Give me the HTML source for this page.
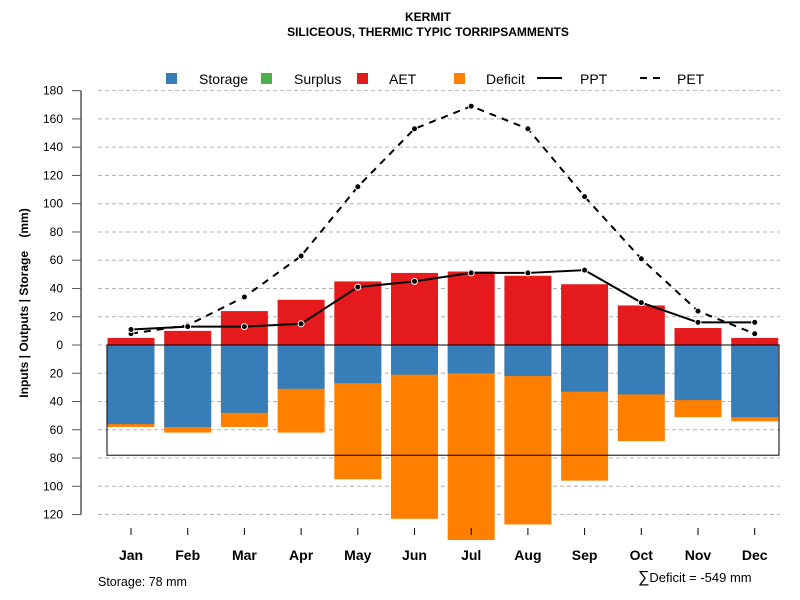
<!DOCTYPE html>
<html><head><meta charset="utf-8">
<style>
body{margin:0;background:#fff;}
svg{display:block;font-family:"Liberation Sans",sans-serif;}
</style></head>
<body>
<svg id="c" width="800" height="600" viewBox="0 0 800 600">
<text x="428" y="21" text-anchor="middle" font-size="12" font-weight="bold">KERMIT</text>
<text x="428" y="36" text-anchor="middle" font-size="12" font-weight="bold">SILICEOUS, THERMIC TYPIC TORRIPSAMMENTS</text>
<g id="grid"></g>
<g id="bars"></g>
<g id="lines"></g>
<g id="axes"></g>
<text transform="translate(28,303) rotate(-90)" text-anchor="middle" font-size="12" font-weight="bold">Inputs | Outputs | Storage&#160;&#160;&#160;&#160;(mm)</text>
<g font-size="14">
<rect x="166" y="73" width="11" height="11" fill="#377EB8"/>
<text x="199" y="84">Storage</text>
<rect x="261" y="73" width="11" height="11" fill="#4DAF4A"/>
<text x="294" y="84">Surplus</text>
<rect x="357" y="73" width="11" height="11" fill="#E41A1C"/>
<text x="389" y="84">AET</text>
<rect x="454" y="73" width="11" height="11" fill="#FF7F00"/>
<text x="486" y="84">Deficit</text>
<line x1="537" y1="78" x2="562" y2="78" stroke="#000" stroke-width="2"/>
<text x="580" y="84">PPT</text>
<line x1="640" y1="78" x2="665" y2="78" stroke="#000" stroke-width="2" stroke-dasharray="7,6"/>
<text x="677" y="84">PET</text>
</g>
<text x="98" y="586" font-size="12.5">Storage: 78 mm</text>
<text x="638" y="582" font-size="13"><tspan font-size="16">∑</tspan>Deficit = -549 mm</text>
</svg>
<script>
const months=["Jan","Feb","Mar","Apr","May","Jun","Jul","Aug","Sep","Oct","Nov","Dec"];
const aet=[5,10,24,32,45,51,52,49,43,28,12,5];
const storage=[56,58,48,31,27,21,20,22,33,35,39,51];
const deficitBottom=[58,62,58,62,95,123,138,127,96,68,51,54];
const ppt=[11,13,13,15,41,45,51,51,53,30,16,16];
const pet=[8,14,34,63,112,153,169,153,105,61,24,8];
const yTicks=[180,160,140,120,100,80,60,40,20,0,-20,-40,-60,-80,-100,-120];
const storageCap=78;

const NS="http://www.w3.org/2000/svg";
const y0=345,k=1.413;
function yS(v){return y0-v*k;}
function xS(i){return 131+i*56.7;}
function mk(tag,attrs,parent){const e=document.createElementNS(NS,tag);for(const a in attrs)e.setAttribute(a,attrs[a]);parent.appendChild(e);return e;}
const grid=document.getElementById('grid'),bars=document.getElementById('bars'),lines=document.getElementById('lines'),axes=document.getElementById('axes');
yTicks.forEach(t=>{
  const g=mk('line',{x1:98,x2:780,y1:yS(t),y2:yS(t),stroke:'#b4b4b4','stroke-dasharray':'4,3'},grid);
  
  
  const tk=mk('line',{x1:72,x2:81,y1:yS(t),y2:yS(t),stroke:'#555'},axes);
  
  
  const tl=mk('text',{x:63,y:yS(t)+4,'text-anchor':'end','font-size':12},axes);
  tl.textContent=Math.abs(t);
  
  
});
const ax=mk('line',{x1:81,x2:81,y1:yS(180),y2:yS(-120),stroke:'#555','stroke-width':1.5},axes);


const bw=47;
months.forEach((m,i)=>{
  const x=xS(i)-bw/2;
  const d=mk('rect',{x:x,y:y0,width:bw,height:deficitBottom[i]*k,fill:'#FF7F00'},bars);
  
  
  const s=mk('rect',{x:x,y:y0,width:bw,height:storage[i]*k,fill:'#377EB8'},bars);
  
  
  const a=mk('rect',{x:x,y:yS(aet[i]),width:bw,height:aet[i]*k,fill:'#E41A1C'},bars);
  
  
  const t=mk('line',{x1:xS(i),x2:xS(i),y1:528,y2:535,stroke:'#000'},axes);
  
  
  const l=mk('text',{x:xS(i),y:560,'text-anchor':'middle','font-size':14,'font-weight':'bold'},axes);
  l.textContent=m;
  
  
});
const box=mk('rect',{x:107,y:y0,width:672,height:storageCap*k,fill:'none',stroke:'#000'},bars);


const zl=mk('line',{x1:107,x2:779,y1:y0,y2:y0,stroke:'#000'},bars);


function series(vals,name,dash){
  const p=mk('polyline',{points:vals.map((v,i)=>xS(i)+','+yS(v)).join(' '),fill:'none',stroke:'#000','stroke-width':2},lines);
  if(dash)p.setAttribute('stroke-dasharray','7,6');
  
  
  vals.forEach((v,i)=>{
    const c=mk('circle',{cx:xS(i),cy:yS(v),r:3,fill:'#000',stroke:'#fff','stroke-width':1},lines);
    
    
  });
}
series(pet,'pet',true);
series(ppt,'ppt',false);
</script>
</body></html>
